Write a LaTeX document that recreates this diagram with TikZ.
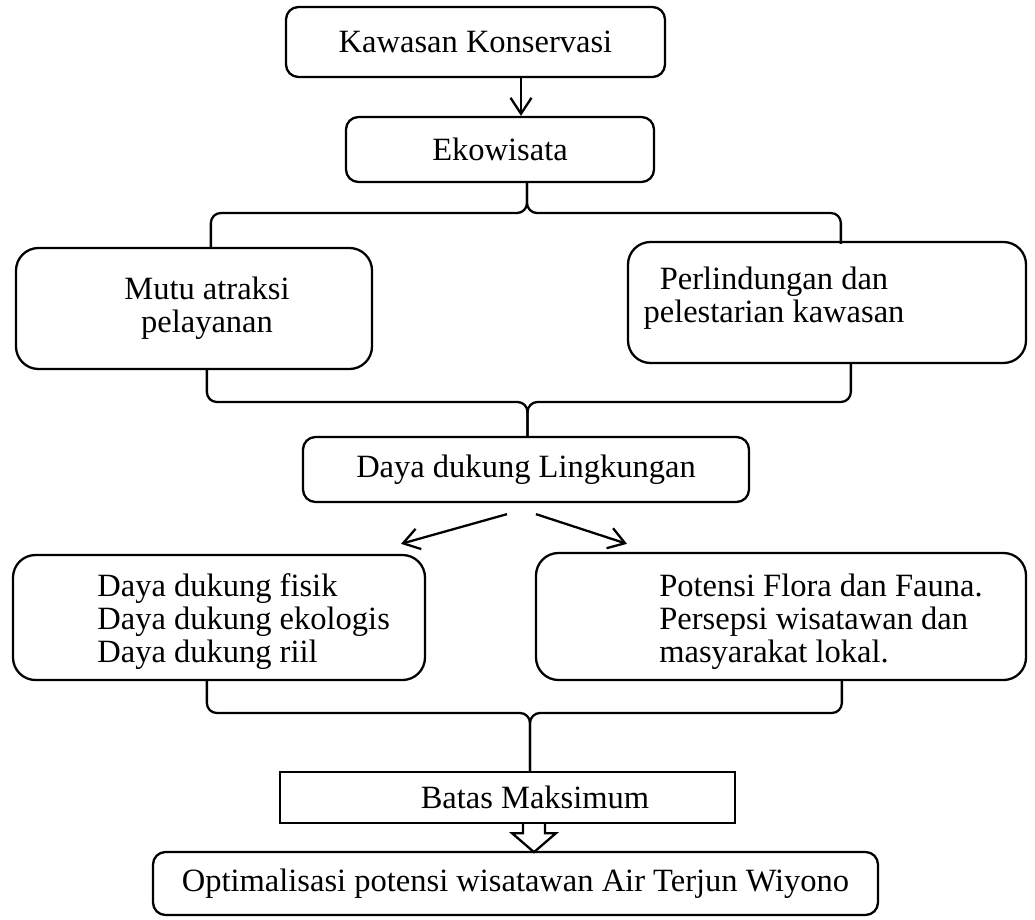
\documentclass[tikz,border=0pt]{standalone}
\usepackage{fontspec}
\setmainfont{Liberation Serif}
\usetikzlibrary{calc,arrows.meta,positioning}

\begin{document}
\begin{tikzpicture}[
  every node/.style={font=\fontsize{18.5}{18.8}\selectfont},
  box/.style={draw,line width=1.3pt,align=center,inner sep=0pt},
  rbox/.style={box,rounded corners=0.25cm},
  bigbox/.style={box,rounded corners=0.45cm},
  txt/.style={inner sep=0pt,align=left},
  brace/.style={line width=1.3pt,rounded corners=0.2cm},
  arr/.style={line width=1.3pt,-{Straight Barb[length=0.32cm,width=0.42cm]}}
]
\useasboundingbox (0,0) rectangle (20.7,-18.4);

\node[rbox,minimum width=7.58cm,minimum height=1.40cm] (kawasan) at (9.51,-0.84) {Kawasan Konservasi};
\node[rbox,minimum width=6.16cm,minimum height=1.30cm] (ekowisata) at (10.0,-2.99) {Ekowisata};
\node[bigbox,minimum width=7.12cm,minimum height=2.42cm] (mutu) at (3.88,-6.17) {};
\node[bigbox,minimum width=7.96cm,minimum height=2.42cm] (perlindungan) at (16.54,-6.05) {};
\node[rbox,minimum width=8.92cm,minimum height=1.30cm] (daya) at (10.52,-9.39) {Daya dukung Lingkungan};
\node[bigbox,minimum width=8.24cm,minimum height=2.50cm] (fisik) at (4.38,-12.35) {};
\node[bigbox,minimum width=9.80cm,minimum height=2.54cm] (flora) at (15.62,-12.33) {};
\node[box,minimum width=9.10cm,minimum height=1.02cm] (batas) at (10.15,-15.95) {};
\node[rbox,minimum width=14.50cm,minimum height=1.26cm] (optimal) at (10.31,-17.67) {Optimalisasi potensi wisatawan Air Terjun Wiyono};

% texts
\node[txt,align=center] (mututext) at (4.14,-6.16) {Mutu atraksi\\pelayanan};
\node[txt,align=center] (perlindungantext) at (15.48,-5.96) {Perlindungan dan\\pelestarian kawasan};
\node[txt,anchor=west] (fisiktext) at (1.94,-12.44) {Daya dukung fisik\\Daya dukung ekologis\\Daya dukung riil};
\node[txt,anchor=west] (floratext) at (13.18,-12.44) {Potensi Flora dan Fauna.\\Persepsi wisatawan dan\\masyarakat lokal.};
\node[txt] (batastext) at (10.7,-15.95) {Batas Maksimum};

% arrows
\coordinate (a1) at (10.42,-1.56);
\draw[arr] (a1) -- (a1 |- ekowisata.north);
\draw[arr] ($(daya.south)+(-0.38,-0.22)$) -- ($(fisik.north)+(3.64,0.2)$);
\draw[arr] ($(daya.south)+(0.20,-0.22)$) -- ($(flora.north)+(-3.08,0.16)$);

% braces
\coordinate (b1) at (10.54,-4.26);
\draw[brace] ($(mutu.north west)+(3.92,0)$) |- (b1) -- (b1 |- ekowisata.south);
\draw[brace] ($(perlindungan.north west)+(4.28,-0.06)$) |- (b1) -- (b1 |- ekowisata.south);

\coordinate (b2) at (10.55,-8.04);
\draw[brace] ($(mutu.south west)+(3.84,0)$) |- (b2) -- (b2 |- daya.north);
\draw[brace] ($(perlindungan.south west)+(4.48,0)$) |- (b2) -- (b2 |- daya.north);

\coordinate (b3) at (10.6,-14.26);
\draw[brace] ($(fisik.south west)+(3.9,0)$) |- (b3) -- (b3 |- batas.north);
\draw[brace] ($(flora.south west)+(6.14,0)$) |- (b3) -- (b3 |- batas.north);

% hollow arrow
\draw[line width=1.3pt] ($(batas.south)+(0.31,0)$) -- ++(0,-0.18) -- ++(-0.22,0)
  -- ++(0.44,-0.38) -- ++(0.44,0.38) -- ++(-0.22,0) -- ++(0,0.18);
\end{tikzpicture}
\end{document}
